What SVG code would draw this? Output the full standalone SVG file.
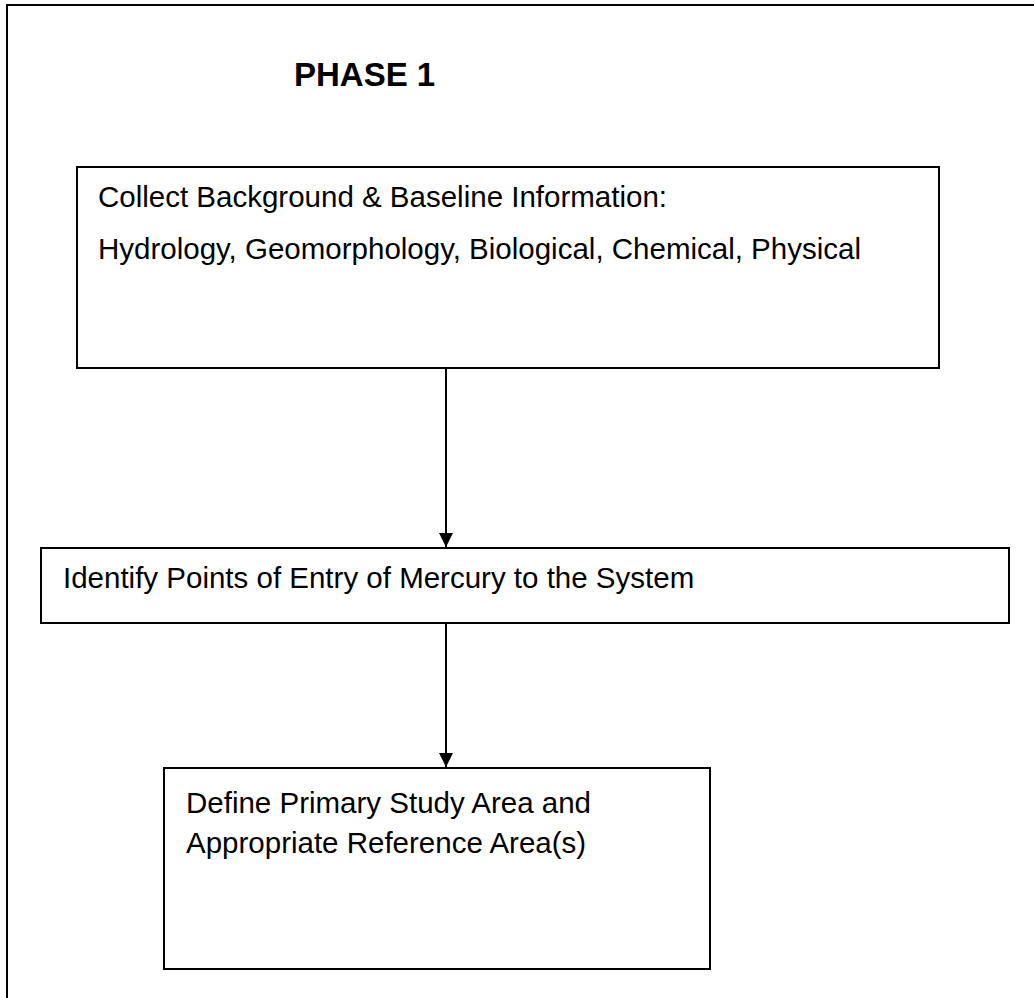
<svg xmlns="http://www.w3.org/2000/svg" width="1034" height="998" viewBox="0 0 1034 998">
<style>
.box{fill:#fff;stroke:#000;stroke-width:2}
.t{font-family:"Liberation Sans",Arial,sans-serif;font-size:29.5px;fill:#000}
.h{font-family:"Liberation Sans",Arial,sans-serif;font-size:33px;font-weight:bold;fill:#000}
.c{stroke:#000;stroke-width:2;fill:none}
</style>
<defs>
<marker id="ah" markerWidth="14" markerHeight="14" refX="14" refY="7" orient="auto" markerUnits="userSpaceOnUse" viewBox="0 0 14 14">
<path d="M0,0 L14,7 L0,14 z" fill="#000"/>
</marker>
</defs>
<g id="frame">
<path d="M7,998 L7,5 L1034,5" class="c"/>
</g>
<g id="title">
<text x="294" y="86" class="h">PHASE 1</text>
</g>
<g id="node1">
<rect x="77" y="167" width="862" height="201" class="box"/>
<text x="98" y="207" class="t">Collect Background &amp; Baseline Information:</text>
<text x="98" y="259" class="t">Hydrology, Geomorphology, Biological, Chemical, Physical</text>
</g>
<g id="node2">
<rect x="41" y="548" width="968" height="75" class="box"/>
<text x="63" y="588" class="t">Identify Points of Entry of Mercury to the System</text>
</g>
<g id="node3">
<rect x="164" y="768" width="546" height="201" class="box"/>
<text x="186" y="813" class="t">Define Primary Study Area and</text>
<text x="186" y="853" class="t">Appropriate Reference Area(s)</text>
</g>
<g id="connectors">
<line x1="446" y1="368" x2="446" y2="547" class="c" marker-end="url(#ah)"/>
<line x1="446" y1="623" x2="446" y2="767" class="c" marker-end="url(#ah)"/>
</g>
</svg>
